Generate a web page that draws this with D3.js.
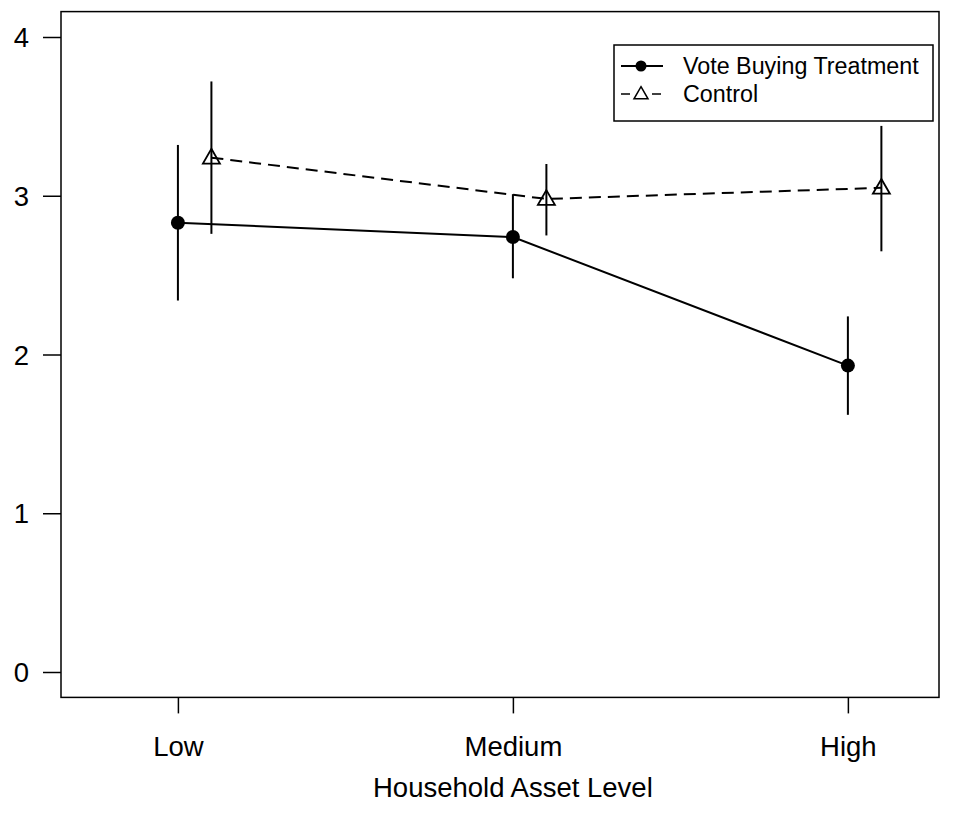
<!DOCTYPE html>
<html>
<head>
<meta charset="utf-8">
<script src="https://cdn.jsdelivr.net/npm/d3@7"></script>
<style>
  html, body { margin: 0; padding: 0; background: #fff; }
  svg text { font-family: "Liberation Sans", Arial, Helvetica, sans-serif; fill: #000; }
</style>
</head>
<body>
<svg id="chart" width="956" height="827"></svg>
<script>
// Asset levels on the x axis
const levels = ["Low", "Medium", "High"];
const levelPos = [1, 2, 3];

// Vote buying treatment: means and 95% interval bounds
const treatMean = [2.83, 2.74, 1.93];
const treatLow  = [2.34, 2.48, 1.62];
const treatHigh = [3.32, 3.01, 2.24];

// Control group: means and 95% interval bounds
const ctrlMean = [3.24, 2.98, 3.05];
const ctrlLow  = [2.76, 2.75, 2.65];
const ctrlHigh = [3.72, 3.20, 3.44];

const yTicks = [0, 1, 2, 3, 4];
const seriesNames = ["Vote Buying Treatment", "Control"];
const xLabel = "Household Asset Level";
const ctrlOffset = 0.1;

const svg = d3.select("#chart");
const plotL = 61, plotR = 939, plotT = 11.6, plotB = 697.4;
const axisFont = 27.5;

const x = d3.scaleLinear().domain([0.651, 3.272]).range([plotL, plotR]);
const y = d3.scaleLinear().domain([-0.16, 4.16]).range([plotB, plotT]);

// plot box
svg.append("rect")
  .attr("x", plotL).attr("y", plotT)
  .attr("width", plotR - plotL).attr("height", plotB - plotT)
  .attr("fill", "none").attr("stroke", "#000").attr("stroke-width", 1.5);

// y axis
const yAxis = d3.axisLeft(y).tickValues(yTicks).tickSize(18).tickPadding(14)
  .tickFormat(d3.format("d"));
const gy = svg.append("g").attr("transform", `translate(${plotL},0)`).call(yAxis);
gy.select(".domain").remove();
gy.selectAll(".tick line").attr("stroke", "#000").attr("stroke-width", 1.5);
gy.selectAll(".tick text").attr("font-size", axisFont).attr("dy", "0.35em")
  .style("font-family", "'Liberation Sans', Arial, sans-serif");

// x axis
const xAxis = d3.axisBottom(x).tickValues(levelPos).tickSize(16).tickPadding(23)
  .tickFormat((d, i) => levels[i]);
const gx = svg.append("g").attr("transform", `translate(0,${plotB})`).call(xAxis);
gx.select(".domain").remove();
gx.selectAll(".tick line").attr("stroke", "#000").attr("stroke-width", 1.5);
gx.selectAll(".tick text").attr("font-size", axisFont).attr("dy", "0.71em")
  .style("font-family", "'Liberation Sans', Arial, sans-serif");

svg.append("text")
  .attr("x", x(2)).attr("y", 797)
  .attr("text-anchor", "middle").attr("font-size", axisFont)
  .text(xLabel);

function triPath(cx, cy, w) {
  // open triangle of given width, centred on (cx, cy)
  const h = w * Math.sqrt(3) / 2;
  return `M${cx},${cy - h * 0.6}L${cx + w / 2},${cy + h * 0.4}L${cx - w / 2},${cy + h * 0.4}Z`;
}

const line = d3.line().x(d => d[0]).y(d => d[1]);

// control series (dashed, open triangles)
const ctrlPts = levelPos.map((p, i) => [x(p + ctrlOffset), y(ctrlMean[i])]);
svg.append("path").attr("d", line(ctrlPts))
  .attr("fill", "none").attr("stroke", "#000").attr("stroke-width", 2)
  .attr("stroke-dasharray", "12,7");
levelPos.forEach((p, i) => {
  svg.append("line")
    .attr("x1", x(p + ctrlOffset)).attr("x2", x(p + ctrlOffset))
    .attr("y1", y(ctrlLow[i])).attr("y2", y(ctrlHigh[i]))
    .attr("stroke", "#000").attr("stroke-width", 2);
  svg.append("path").attr("d", triPath(x(p + ctrlOffset), y(ctrlMean[i]), 17))
    .attr("fill", "none").attr("stroke", "#000").attr("stroke-width", 1.8);
});

// treatment series (solid, filled circles)
const treatPts = levelPos.map((p, i) => [x(p), y(treatMean[i])]);
svg.append("path").attr("d", line(treatPts))
  .attr("fill", "none").attr("stroke", "#000").attr("stroke-width", 2);
levelPos.forEach((p, i) => {
  svg.append("line")
    .attr("x1", x(p)).attr("x2", x(p))
    .attr("y1", y(treatLow[i])).attr("y2", y(treatHigh[i]))
    .attr("stroke", "#000").attr("stroke-width", 2);
  svg.append("circle").attr("cx", x(p)).attr("cy", y(treatMean[i])).attr("r", 7)
    .attr("fill", "#000");
});

// legend
const lg = svg.append("g");
lg.append("rect").attr("x", 614).attr("y", 45).attr("width", 319).attr("height", 76)
  .attr("fill", "#fff").attr("stroke", "#000").attr("stroke-width", 1.5);
const ly = [66, 94];
lg.append("line").attr("x1", 621).attr("x2", 663).attr("y1", ly[0]).attr("y2", ly[0])
  .attr("stroke", "#000").attr("stroke-width", 2);
lg.append("circle").attr("cx", 641).attr("cy", ly[0]).attr("r", 5.5).attr("fill", "#000");
lg.append("line").attr("x1", 621).attr("x2", 630).attr("y1", ly[1]).attr("y2", ly[1])
  .attr("stroke", "#000").attr("stroke-width", 1.5);
lg.append("line").attr("x1", 652).attr("x2", 661).attr("y1", ly[1]).attr("y2", ly[1])
  .attr("stroke", "#000").attr("stroke-width", 1.5);
lg.append("path").attr("d", triPath(641, ly[1], 14))
  .attr("fill", "none").attr("stroke", "#000").attr("stroke-width", 1.5);
seriesNames.forEach((s, i) => {
  lg.append("text").attr("x", 683).attr("y", ly[i]).attr("dy", "0.35em")
    .attr("font-size", 23.3).text(s);
});
</script>
</body>
</html>
